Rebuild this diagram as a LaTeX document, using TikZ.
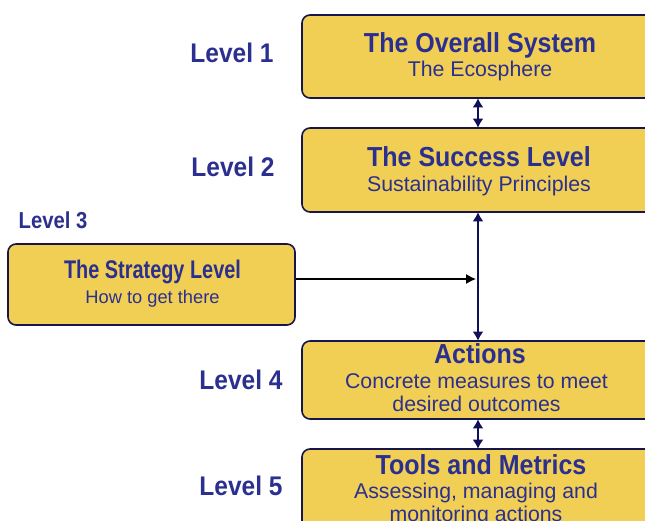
\documentclass[tikz,border=0pt]{standalone}
\usepackage{fontspec}
\setmainfont{Liberation Sans}
\usetikzlibrary{arrows.meta}
\definecolor{boxfill}{HTML}{F1CF55}
\definecolor{boxline}{HTML}{16164C}
\definecolor{txt}{HTML}{2B3090}
\definecolor{arr}{HTML}{10105A}
\newcommand\tallt[1]{\scalebox{1}[1.1]{#1}}
\tikzset{
  box/.style={draw=boxline, fill=boxfill, line width=1.6pt, rounded corners=8pt, rectangle, inner sep=0pt},
  ttl/.style={anchor=base, text=txt, inner sep=0pt, font=\fontsize{25}{28}\selectfont\bfseries},
  sub/.style={anchor=base, text=txt, inner sep=0pt, font=\fontsize{21.3}{24}\selectfont},
  lvl/.style={anchor=base, text=txt, inner sep=0pt, font=\fontsize{24.5}{28}\selectfont\bfseries},
  dbl/.style={draw=arr, line width=2pt, {Latex[length=9pt,width=11pt]}-{Latex[length=9pt,width=11pt]}, shorten <=-0.5pt, shorten >=-0.5pt},
  sgl/.style={draw=black, line width=1.2pt, -{Latex[length=10pt,width=10pt]}},
}
\begin{document}
\begin{tikzpicture}[x=1pt,y=-1pt]
\useasboundingbox (0,0) rectangle (645,521);
\clip (0,0) rectangle (645,521);
\fill[white] (0,0) rectangle (645,521);
% boxes
\node[box, minimum width=356pt, minimum height=83pt] (b1) at (480,56.5) {};
\node[box, minimum width=356pt, minimum height=84pt] (b2) at (480,170) {};
\node[box, minimum width=287pt, minimum height=81pt] (b3) at (151.5,284.5) {};
\node[box, minimum width=356pt, minimum height=78pt] (b4) at (480,380) {};
\node[box, minimum width=356pt, minimum height=95pt] (b5) at (480,496.5) {};
% texts
\node[ttl] (t1) at (480,53) {\tallt{The Overall System}};
\node[sub] (s1) at (480,77) {The Ecosphere};
\node[ttl] (t2) at (479,167) {\tallt{The Success Level}};
\node[sub] (s2) at (479,192) {Sustainability Principles};
\node[ttl] (t3) at (152.5,279) {\scalebox{0.78}[1]{\fontsize{25.5}{28}\selectfont\bfseries The Strategy Level}};
\node[sub, font=\fontsize{18.3}{22}\selectfont] (s3) at (152.5,303) {How to get there};
\node[ttl] (t4) at (480,363) {\tallt{Actions}};
\node[sub] (s4a) at (476.5,388) {Concrete measures to meet};
\node[sub] (s4b) at (476.5,411) {desired outcomes};
\node[ttl] (t5) at (481,474) {\tallt{Tools and Metrics}};
\node[sub] (s5a) at (476,498) {Assessing, managing and};
\node[sub] (s5b) at (476,521) {monitoring actions};
% level labels
\node[lvl] (l1) at (232,63) {\tallt{Level 1}};
\node[lvl] (l2) at (233,177) {\tallt{Level 2}};
\node[lvl, font=\fontsize{22}{26}\selectfont\bfseries] (l3) at (53,229) {\scalebox{0.92}[1.05]{Level 3}};
\node[lvl] (l4) at (241,389) {\tallt{Level 4}};
\node[lvl] (l5) at (241,495) {\tallt{Level 5}};
% connectors
\coordinate (ax) at (478,0);
\coordinate (j) at (476,279);
\draw[dbl] (b1.south -| ax) -- (b2.north -| ax);
\draw[dbl] (b2.south -| ax) -- (b4.north -| ax);
\draw[dbl] (b4.south -| ax) -- (b5.north -| ax);
\draw[sgl] (b3.east |- j) -- (j);
\end{tikzpicture}
\end{document}
